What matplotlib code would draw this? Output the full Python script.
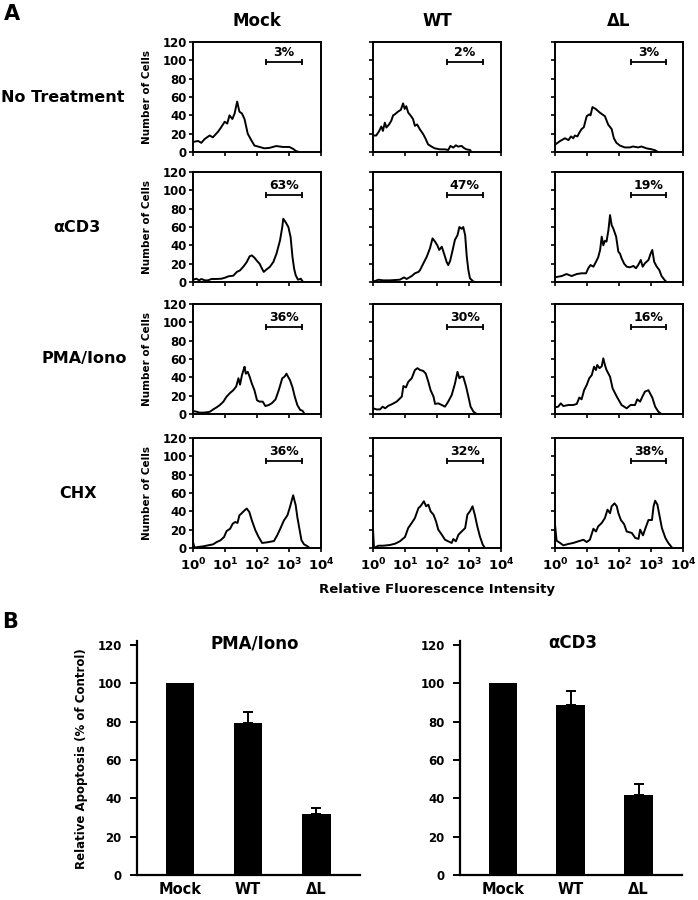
import numpy as np
import matplotlib
matplotlib.use("Agg")
import matplotlib.pyplot as plt
from matplotlib.ticker import NullLocator, FuncFormatter

plt.rcParams['font.family'] = ['DejaVu Sans']
plt.rcParams['font.weight'] = 'bold'
plt.rcParams['mathtext.fontset'] = 'dejavusans'

# === PANEL A: FLOW HISTOGRAMS (log10 intensity, number of cells) ===
conditions = ['No Treatment', '\u03b1CD3', 'PMA/Iono', 'CHX']
genotypes = ['Mock', 'WT', '\u0394L']
percents = [[3, 2, 3], [63, 47, 19], [36, 30, 16], [36, 32, 38]]
gate_lo = [2.28, 2.30, 2.37]   # log10 of gate start, per genotype column
gate_hi = [3.42, 3.44, 3.48]

nt_mock_x = [0, 0.16, 0.26, 0.36, 0.52, 0.62, 0.78, 0.88, 0.99, 1.07, 1.14, 1.23, 1.30, 1.38, 1.45,
             1.53, 1.61, 1.71, 1.82, 1.92, 2.08, 2.23, 2.39, 2.60, 2.81, 3.01, 3.12, 3.22, 3.32]
nt_mock_y = [11, 12, 10, 14, 18, 16, 22, 27, 33, 31, 40, 36, 42, 55, 44,
             42, 36, 20, 13, 7, 5.5, 4, 4.5, 6.5, 5.5, 5.5, 3.6, 1, 0]
nt_wt_x = [0, 0.10, 0.19, 0.26, 0.31, 0.37, 0.42, 0.50, 0.57, 0.63, 0.68, 0.78, 0.87, 0.94, 0.99,
           1.04, 1.10, 1.17, 1.25, 1.31, 1.38, 1.46, 1.57, 1.65, 1.72, 1.83, 1.93, 2.09, 2.25, 2.35,
           2.42, 2.51, 2.59, 2.66, 2.77, 2.84, 2.92, 3.03, 3.08]
nt_wt_y = [18, 18, 22.7, 27.8, 23, 32, 26.7, 30, 34, 40, 41, 44, 46, 53, 47,
           50, 43, 40, 36, 28.5, 30, 25, 19.4, 14, 8.4, 5.9, 4, 2.9, 2.9, 2.2,
           6.6, 4.8, 7.3, 5.9, 6.6, 4.4, 2.9, 2.2, 0]
nt_dl_x = [0, 0.16, 0.31, 0.42, 0.50, 0.57, 0.62, 0.70, 0.76, 0.83, 0.90, 0.99, 1.07, 1.11, 1.17,
           1.27, 1.40, 1.56, 1.66, 1.77, 1.84, 1.92, 2.03, 2.18, 2.34, 2.44, 2.60, 2.70, 2.86, 3.01,
           3.12, 3.22]
nt_dl_y = [8, 12, 15, 13, 17, 15, 18, 17, 21, 25, 27, 39, 41, 40, 49,
           47, 43, 39, 30, 25, 15, 10, 7, 5, 5, 6, 5, 6, 4, 3,
           2, 0]

cd3_mock_x = [0, 0.11, 0.19, 0.26, 0.37, 0.47, 0.58, 0.74, 0.89, 1.00, 1.11, 1.26, 1.37, 1.47, 1.58,
              1.68, 1.77, 1.84, 1.92, 2.00, 2.08, 2.13, 2.21, 2.29, 2.40, 2.51, 2.61, 2.72, 2.79, 2.82,
              2.89, 2.98, 3.05, 3.11, 3.16, 3.21, 3.28, 3.37, 3.42, 3.47]
cd3_mock_y = [2.5, 3.6, 1.8, 3.3, 1.8, 1.8, 3.3, 3.3, 3.6, 4.7, 6.2, 6.9, 11, 12.7, 17,
              21.8, 28, 29, 26.5, 23, 20, 16.4, 11, 13.5, 16.4, 21.8, 31, 45.5, 60, 69,
              65.5, 60, 49, 27, 14.5, 7.3, 2.5, 3.6, 0.7, 0]
cd3_wt_x = [0, 0.06, 0.17, 0.32, 0.53, 0.84, 0.97, 1.05, 1.21, 1.31, 1.42, 1.47, 1.57, 1.68, 1.78,
            1.86, 1.94, 2.01, 2.07, 2.15, 2.22, 2.30, 2.35, 2.41, 2.49, 2.56, 2.64, 2.70, 2.77, 2.82,
            2.88, 2.93, 2.98, 3.03, 3.14, 3.19]
cd3_wt_y = [1, 1, 2.5, 1.8, 1.8, 2.5, 5, 3.3, 6.5, 9.5, 11, 13, 20, 27.6, 36.7,
            47.6, 44, 40, 35, 38.5, 31, 22, 18.5, 23, 35, 46, 51, 60, 58, 60,
            51, 27.6, 13, 4, 0.4, 0]
cd3_dl_x = [0, 0.10, 0.21, 0.36, 0.52, 0.68, 0.83, 0.97, 1.04, 1.11, 1.20, 1.28, 1.35, 1.41, 1.46,
            1.51, 1.56, 1.61, 1.67, 1.72, 1.77, 1.82, 1.91, 1.98, 2.03, 2.08, 2.16, 2.24, 2.34, 2.45,
            2.53, 2.60, 2.68, 2.74, 2.81, 2.92, 2.99, 3.04, 3.10, 3.18, 3.26, 3.33, 3.44, 3.49]
cd3_dl_y = [5, 5.8, 6.5, 8.7, 6.5, 8.7, 9.5, 9.5, 15, 18.5, 16.7, 22, 27, 35, 49.5,
            40, 45, 44, 56.7, 73, 62, 58.5, 49.5, 33, 31, 26, 20, 16.7, 16, 17.5,
            15, 18.5, 24, 16.7, 20.4, 24, 31, 35, 22, 16.7, 13, 6.5, 1.5, 0]

pma_mock_x = [0, 0.11, 0.21, 0.32, 0.42, 0.53, 0.63, 0.74, 0.84, 0.95, 1.05, 1.16, 1.26, 1.35, 1.42,
              1.47, 1.53, 1.58, 1.61, 1.65, 1.71, 1.77, 1.84, 1.92, 2.00, 2.08, 2.18, 2.26, 2.37, 2.47,
              2.58, 2.68, 2.79, 2.86, 2.92, 2.97, 3.03, 3.11, 3.18, 3.26, 3.35, 3.42, 3.49]
pma_mock_y = [3.3, 2.5, 1.5, 1.5, 1.8, 2.5, 5, 7.3, 9.8, 13.5, 19, 23, 26, 30, 39,
              32, 42.5, 48, 51.6, 44, 46, 40.7, 33, 26, 15, 13.5, 13.5, 8.7, 9.8, 12,
              16, 26, 39, 40.7, 44, 40.7, 37, 29, 19, 9.8, 4.4, 3.6, 0]
pma_wt_x = [0, 0.11, 0.22, 0.30, 0.38, 0.48, 0.58, 0.74, 0.90, 0.95, 1.03, 1.10, 1.21, 1.31, 1.39,
            1.47, 1.57, 1.65, 1.73, 1.80, 1.89, 1.94, 2.04, 2.15, 2.25, 2.35, 2.46, 2.56, 2.64, 2.70,
            2.75, 2.82, 2.91, 2.98, 3.05, 3.14, 3.24]
pma_wt_y = [6.2, 5, 5, 8, 6.2, 9, 10.5, 13.5, 19, 30.5, 29, 35, 39, 48, 50,
            48, 47, 44, 35, 26, 19, 11, 11.6, 9.8, 8, 13.5, 20.7, 33, 46, 39,
            40.7, 40.7, 29.8, 19, 8, 2.5, 0]
pma_dl_x = [0, 0.10, 0.18, 0.26, 0.42, 0.57, 0.68, 0.76, 0.83, 0.91, 0.99, 1.07, 1.15, 1.22, 1.28,
            1.32, 1.39, 1.46, 1.51, 1.56, 1.61, 1.72, 1.80, 1.93, 2.08, 2.24, 2.36, 2.50, 2.57, 2.66,
            2.74, 2.81, 2.92, 2.97, 3.04, 3.13, 3.23, 3.33]
pma_dl_y = [7.3, 8, 11.6, 8.7, 9.8, 9.8, 11, 18, 16, 26, 31.6, 39, 42.5, 51.6, 48,
            53.5, 50, 52, 60.7, 53.5, 48, 40.7, 28, 19, 9.8, 6.2, 9.8, 9.8, 16, 13.5,
            19.6, 24.4, 26, 22.5, 18, 8, 2.5, 0]

chx_mock_x = [0, 0.05, 0.16, 0.32, 0.47, 0.63, 0.74, 0.86, 0.97, 1.05, 1.16, 1.24, 1.32, 1.39, 1.45,
              1.51, 1.56, 1.61, 1.68, 1.76, 1.84, 1.95, 2.05, 2.16, 2.32, 2.53, 2.63, 2.74, 2.84, 2.95,
              3.03, 3.13, 3.21, 3.26, 3.32, 3.39, 3.47, 3.58, 3.65]
chx_mock_y = [6.5, 0.4, 1.1, 1.8, 2.9, 4, 6.5, 8.4, 12, 18.5, 21, 26.5, 28.4, 27.3, 35.6,
              37.5, 39.3, 41, 43, 39.3, 30, 19.3, 12, 5.5, 6.2, 7.6, 13.8, 22, 30, 35.6,
              44.7, 57.5, 46.5, 33.8, 22, 8.4, 4, 1.8, 0]
chx_wt_x = [0, 0.03, 0.17, 0.32, 0.53, 0.69, 0.84, 1.00, 1.10, 1.21, 1.31, 1.42, 1.47, 1.52, 1.59,
            1.66, 1.73, 1.80, 1.89, 1.97, 2.04, 2.15, 2.25, 2.35, 2.46, 2.51, 2.59, 2.67, 2.77, 2.88,
            2.95, 3.03, 3.11, 3.18, 3.26, 3.34, 3.43, 3.50]
chx_wt_y = [21, 0, 2.5, 2.5, 3.3, 4.7, 7.3, 12, 21.8, 27.3, 32.7, 43.6, 45, 47.3, 51,
            45.5, 47.3, 40, 36.4, 29, 20, 14.5, 9, 7.3, 5.5, 9.8, 7.3, 14.5, 18, 21.8,
            36.4, 40, 45.5, 36.4, 23.6, 12.7, 3.6, 0]
chx_dl_x = [0, 0.05, 0.16, 0.26, 0.42, 0.57, 0.73, 0.89, 0.99, 1.09, 1.20, 1.28, 1.35, 1.46, 1.56,
            1.64, 1.72, 1.77, 1.86, 1.93, 1.98, 2.06, 2.16, 2.24, 2.40, 2.51, 2.61, 2.66, 2.75, 2.82,
            2.92, 3.03, 3.08, 3.13, 3.20, 3.27, 3.34, 3.45, 3.54, 3.65]
chx_dl_y = [25.5, 8, 5.5, 2.9, 4.4, 5.5, 7.3, 9, 6.5, 9, 21, 18, 23.6, 27.3, 32.7,
            41.8, 38, 45.5, 48.7, 45.5, 38, 30.5, 26, 18, 16.4, 10.9, 10, 20, 13.8, 21,
            30.5, 30.5, 45.5, 51.6, 47.3, 34.5, 21.8, 10.9, 5.5, 0.7]

# === PANEL B: RELATIVE APOPTOSIS ===
bar_groups = ['Mock', 'WT', '\u0394L']
pma_vals = [100, 79, 32]
pma_err = [0, 6, 3]
cd3_vals = [100, 88.5, 41.5]
cd3_err = [0, 7.5, 6]

curves = [
    [(nt_mock_x, nt_mock_y), (nt_wt_x, nt_wt_y), (nt_dl_x, nt_dl_y)],
    [(cd3_mock_x, cd3_mock_y), (cd3_wt_x, cd3_wt_y), (cd3_dl_x, cd3_dl_y)],
    [(pma_mock_x, pma_mock_y), (pma_wt_x, pma_wt_y), (pma_dl_x, pma_dl_y)],
    [(chx_mock_x, chx_mock_y), (chx_wt_x, chx_wt_y), (chx_dl_x, chx_dl_y)],
]

W, H = 698, 900
fig = plt.figure(figsize=(W / 100, H / 100), dpi=100)


def px_axes(x0, y0, x1, y1):
    # axes from pixel box (top-left origin)
    return fig.add_axes([x0 / W, 1 - y1 / H, (x1 - x0) / W, (y1 - y0) / H])


def ftext(x, y, s, **kw):
    fig.text(x / W, 1 - y / H, s, **kw)


col_left = [193, 373, 555]
row_top = [42, 172, 304, 438]
panel_w, panel_h = 128, 110
row_label_x = [63, 77, 84, 78]

logfmt = FuncFormatter(lambda v, p: r'$\mathbf{10^{%d}}$' % round(np.log10(v)))

for r in range(4):
    for c in range(3):
        x0, y0 = col_left[c], row_top[r]
        ax = px_axes(x0, y0, x0 + panel_w, y0 + panel_h)
        lx, cnt = curves[r][c]
        ax.plot(10 ** np.array(lx), cnt, color='black', lw=1.4)
        ax.set_xscale('log')
        ax.set_xlim(1, 1e4)
        ax.set_ylim(0, 120)
        ax.set_xticks([1, 10, 100, 1000, 10000])
        ax.xaxis.set_minor_locator(NullLocator())
        ax.set_yticks(range(0, 121, 20))
        for s in ax.spines.values():
            s.set_linewidth(1.4)
        ax.tick_params(direction='out', length=3, width=1.2, labelsize=8.5, pad=1.5)
        if r == 3:
            ax.xaxis.set_major_formatter(logfmt)
            ax.tick_params(axis='x', labelsize=9.5, pad=3)
        else:
            ax.set_xticklabels([])
        if c > 0:
            ax.set_yticklabels([])
        # gate marker
        gy = 98 if r == 0 else 95
        gx = [10 ** gate_lo[c], 10 ** gate_hi[c]]
        ax.plot(gx, [gy, gy], color='black', lw=1.3, marker='|', ms=5, mew=1.3)
        ax.text(10 ** ((gate_lo[c] + gate_hi[c]) / 2), gy + 3, '%d%%' % percents[r][c],
                ha='center', va='bottom', fontsize=9, fontweight='bold')
        if c == 0:
            ftext(147, y0 + panel_h / 2, 'Number of Cells', rotation=90,
                  ha='center', va='center', fontsize=7.5, fontweight='bold')
    ftext(row_label_x[r], row_top[r] + 55, conditions[r], ha='center', va='center',
          fontsize=11.5, fontweight='bold')

for c in range(3):
    ftext(col_left[c] + panel_w / 2, 21, genotypes[c], ha='center', va='center',
          fontsize=12, fontweight='bold')

ftext(437, 590, 'Relative Fluorescence Intensity', ha='center', va='center',
      fontsize=9.5, fontweight='bold')
ftext(4, 14, 'A', ha='left', va='center', fontsize=15, fontweight='bold')
ftext(2, 622, 'B', ha='left', va='center', fontsize=15, fontweight='bold')

# === BAR CHARTS ===
bar_specs = [(137, 360, pma_vals, pma_err, 'PMA/Iono', 255),
             (460, 682, cd3_vals, cd3_err, '\u03b1CD3', 573)]
for x0, x1, vals, errs, title, tx in bar_specs:
    ax = px_axes(x0, 641, x1, 875)
    pos = np.arange(len(bar_groups))
    ax.bar(pos, vals, width=0.42, color='black')
    errs = np.array(errs, dtype=float)
    m = errs > 0
    ax.errorbar(pos[m], np.array(vals)[m], yerr=[np.zeros(m.sum()), errs[m]],
                fmt='none', ecolor='black', elinewidth=1.4, capsize=3.3, capthick=1.4)
    ax.set_xlim(-0.63, 2.64)
    ax.set_ylim(0, 122)
    ax.set_yticks(range(0, 121, 20))
    ax.set_xticks(pos)
    ax.set_xticklabels(bar_groups, fontsize=10.5, fontweight='bold')
    ax.spines['top'].set_visible(False)
    ax.spines['right'].set_visible(False)
    ax.spines['left'].set_linewidth(1.6)
    ax.spines['bottom'].set_linewidth(1.6)
    ax.tick_params(axis='y', direction='out', length=5, width=1.4, labelsize=8.5, pad=6)
    ax.tick_params(axis='x', length=0, pad=5)
    ftext(tx, 643, title, ha='center', va='center', fontsize=12, fontweight='bold')

ftext(82, 759, 'Relative Apoptosis (% of Control)', rotation=90, ha='center', va='center',
      fontsize=8.5, fontweight='bold')

fig.savefig('out.png', dpi=100)
